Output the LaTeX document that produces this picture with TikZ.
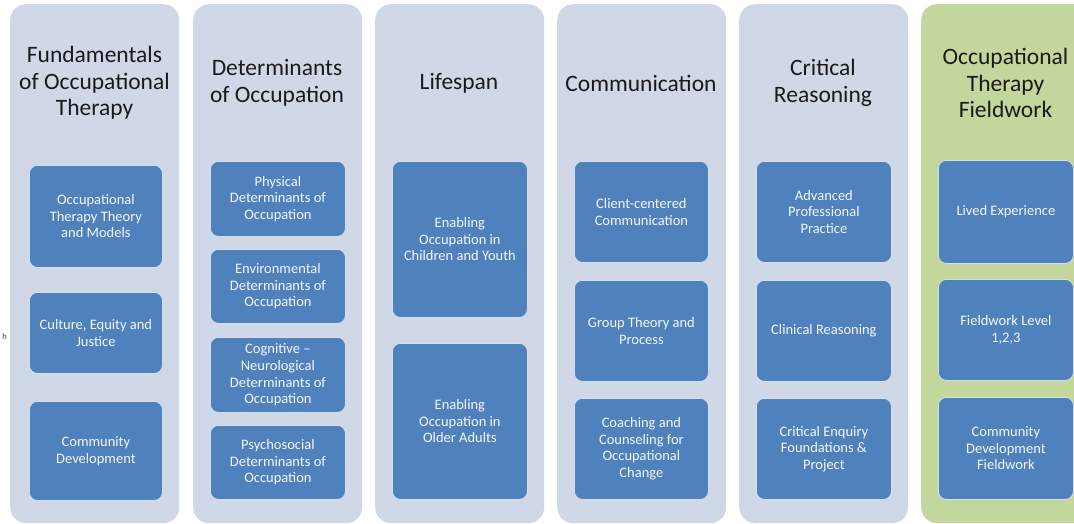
\documentclass[tikz,border=0pt]{standalone}
\usepackage{fontspec}
\setmainfont{Carlito}
\definecolor{colbg}{HTML}{D0D8E8}
\definecolor{colgreen}{HTML}{C3D69B}
\definecolor{boxblue}{HTML}{4F81BD}
\definecolor{titletext}{HTML}{1A1A1A}
\begin{document}
\begin{tikzpicture}[x=1pt,y=-1pt]
\tikzset{
  column/.style={fill=colbg, draw=none, rounded corners=16pt, anchor=north west, minimum width=169pt, minimum height=519pt, inner sep=0pt},
  greencol/.style={column, fill=colgreen},
  title/.style={text=titletext, font=\fontsize{23.5}{26.5}\selectfont, align=center},
  item/.style={fill=boxblue, draw=white!75!boxblue, line width=0.8pt, rounded corners=8pt, anchor=north west, inner sep=2pt, text=white!94!boxblue, font=\fontsize{14.5}{16.6}\selectfont, align=center}
}
\useasboundingbox (0,0) rectangle (1074,524);
\fill[white] (0,0) rectangle (1074,524);
% columns
\node[column] (c1) at (10,4) {};
\node[column] (c2) at (193,4) {};
\node[column] (c3) at (375,4) {};
\node[column] (c4) at (557,4) {};
\node[column] (c5) at (739,4) {};
\node[greencol] (c6) at (921,4) {};
% titles
\node[title] (t1) at (94.5,83) {Fundamentals\\of Occupational\\Therapy};
\node[title] (t2) at (277,83) {Determinants\\of Occupation};
\node[title] (t3) at (459,83) {Lifespan};
\node[title] (t4) at (641,83) {Communication};
\node[title] (t5) at (823,83) {Critical\\Reasoning};
\node[title] (t6) at (1005.5,83) {Occupational\\Therapy\\Fieldwork};
% column 1
\node[item, minimum width=133pt, minimum height=102pt] (a1) at (29,165) {Occupational\\Therapy Theory\\and Models};
\node[item, minimum width=133pt, minimum height=81pt] (a2) at (29,292) {Culture, Equity and\\Justice};
\node[item, minimum width=133pt, minimum height=99pt] (a3) at (29,401) {Community\\Development};
% column 2
\node[item, minimum width=135pt, minimum height=75pt] (b1) at (210,161) {Physical\\Determinants of\\Occupation};
\node[item, minimum width=135pt, minimum height=74pt] (b2) at (210,249) {Environmental\\Determinants of\\Occupation};
\node[item, minimum width=135pt, minimum height=75pt] (b3) at (210,337) {Cognitive --\\Neurological\\Determinants of\\Occupation};
\node[item, minimum width=135pt, minimum height=74pt] (b4) at (210,425) {Psychosocial\\Determinants of\\Occupation};
% column 3
\node[item, minimum width=135pt, minimum height=156pt] (d1) at (392,161) {Enabling\\Occupation in\\Children and Youth};
\node[item, minimum width=135pt, minimum height=156pt] (d2) at (392,343) {Enabling\\Occupation in\\Older Adults};
% column 4
\node[item, minimum width=134pt, minimum height=101pt] (e1) at (574,161) {Client-centered\\Communication};
\node[item, minimum width=134pt, minimum height=101pt] (e2) at (574,280) {Group Theory and\\Process};
\node[item, minimum width=134pt, minimum height=101pt] (e3) at (574,398) {Coaching and\\Counseling for\\Occupational\\Change};
% column 5
\node[item, minimum width=135pt, minimum height=101pt] (f1) at (756,161) {Advanced\\Professional\\Practice};
\node[item, minimum width=135pt, minimum height=101pt] (f2) at (756,280) {Clinical Reasoning};
\node[item, minimum width=135pt, minimum height=101pt] (f3) at (756,398) {Critical Enquiry\\Foundations \&\\Project};
% column 6
\node[item, minimum width=135pt, minimum height=103pt] (g1) at (938,160) {Lived Experience};
\node[item, minimum width=135pt, minimum height=101pt] (g2) at (938,279) {Fieldwork Level\\1,2,3};
\node[item, minimum width=135pt, minimum height=102pt] (g3) at (938,397) {Community\\Development\\Fieldwork};
% stray mark at left edge
\node[font=\fontsize{8.5}{9}\selectfont, text=black!75, inner sep=0pt] (stray) at (4.5,337) {h};
\end{tikzpicture}
\end{document}
